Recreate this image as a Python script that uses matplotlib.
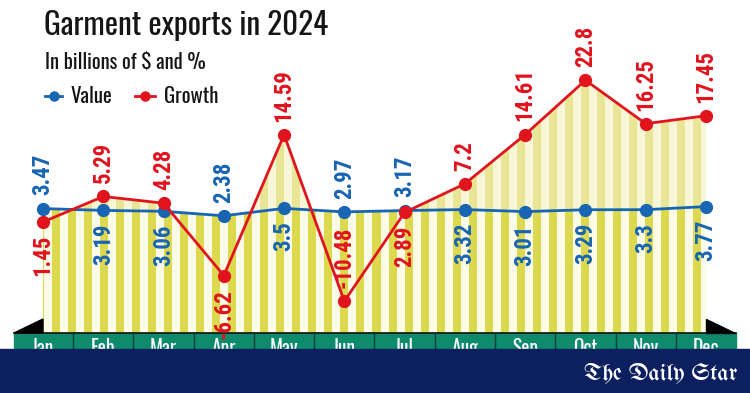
import matplotlib

matplotlib.use("Agg")
import matplotlib.pyplot as plt
import numpy as np
from matplotlib import font_manager
from matplotlib.patches import Polygon, Rectangle
from matplotlib.transforms import Affine2D, blended_transform_factory

## Data
months = ["Jan", "Feb", "Mar", "Apr", "May", "Jun", "Jul", "Aug", "Sep", "Oct", "Nov", "Dec"]
value = [3.47, 3.19, 3.06, 2.38, 3.5, 2.97, 3.17, 3.32, 3.01, 3.29, 3.3, 3.77]
growth = [1.45, 5.29, 4.28, -6.62, 14.59, -10.48, 2.89, 7.2, 14.61, 22.8, 16.25, 17.45]
# which side of the point each label sits on
value_side = ["up", "down", "down", "up", "down", "up", "up", "down", "down", "down", "down", "down"]
growth_side = ["down", "up", "up", "down", "up", "up", "down", "up", "up", "up", "up", "up"]

### Constants
W, H = 750, 393
X0, DX = 43, 60.27  # pixel of Jan, pixels per month
Y0, DY = 231.6, 6.64  # pixel of zero, pixels per unit
BLUE = "#1765b3"
RED = "#e1131d"

installed = {f.name for f in font_manager.fontManager.ttflist}


def pick(*names):
    for n in names:
        if n in installed:
            return n
    return "DejaVu Sans"


TITLE_FONT = pick("Oswald Light", "Oswald ExtraLight", "Oswald", "Roboto Condensed",
                  "Archivo Narrow", "Barlow Condensed")
LABEL_FONT = pick("Roboto Condensed", "Oswald", "Archivo Narrow", "Barlow Condensed")
STAR_FONT = pick("UnifrakturMaguntia", "UnifrakturCook", "Pirata One", "Grenze Gotisch",
                 "Germania One", "DejaVu Serif")

fig = plt.figure(figsize=(W / 100, H / 100), dpi=100)
ax = fig.add_axes([0, 0, 1, 1])
ax.axis("off")
pix = Affine2D().scale(1 / W, -1 / H).translate(0, 1) + fig.transFigure
xband = blended_transform_factory(ax.transData, pix)

x = np.arange(len(months))
v_base = (Y0 - 333) / DY


# striped fill images
def stripes(c_on, c_off):
    cols = X0 + np.arange(int(DX * 11)) + 0.5
    on = ((cols - 52) % 16) < 8
    arr = np.where(on[:, None], np.array(c_on), np.array(c_off))
    return arr[None, :, :] / 255.0


pale = ax.imshow(
    stripes((232, 230, 150), (247, 246, 214)),
    extent=[0, 11, v_base, 30],
    aspect="auto",
    interpolation="nearest",
    zorder=1,
)
pale.set_clip_path(
    Polygon(list(zip(x, growth)) + [(11, v_base), (0, v_base)], transform=ax.transData)
)
strong = ax.imshow(
    stripes((220, 216, 80), (252, 251, 230)),
    extent=[0, 11, v_base, 30],
    aspect="auto",
    interpolation="nearest",
    zorder=2,
)
strong.set_clip_path(
    Polygon(list(zip(x, value)) + [(11, v_base), (0, v_base)], transform=ax.transData)
)

# lines
ax.plot(x, value, color=BLUE, lw=2, marker="o", ms=8.5, zorder=4)
ax.plot(x, growth, color=RED, lw=2, marker="o", ms=8.5, zorder=5)

for series, sides, color in [(value, value_side, BLUE), (growth, growth_side, RED)]:
    for i, (v, s) in enumerate(zip(series, sides)):
        ax.annotate(
            str(v),
            (i, v),
            xytext=(0, 9.5 if s == "up" else -9.5),
            textcoords="offset points",
            rotation=90,
            ha="center",
            va="bottom" if s == "up" else "top",
            fontsize=16.5,
            fontweight="bold",
            family=LABEL_FONT,
            color=color,
            zorder=6,
        )

# month band
ax.add_patch(Rectangle((14, 333), 722, 16, transform=pix, color="#0e8a6c", zorder=3))
ax.plot([14, 736], [333, 333], transform=pix, color="#111111", lw=1.2, zorder=3)
for i in range(1, len(months)):
    ax.plot([i - 0.5, i - 0.5], [333, 349], transform=xband, color="#0b3f33", lw=1, zorder=3)
ax.add_patch(Polygon([(14, 333), (43, 319), (43, 333)], transform=pix, color="black", zorder=3))
ax.add_patch(Polygon([(706, 319), (706, 333), (735, 333)], transform=pix, color="black", zorder=3))
for i, m in enumerate(months):
    ax.text(i, 355, m, transform=xband, ha="center", va="baseline", color="white",
            fontsize=14, family=TITLE_FONT, zorder=4)

# banner
ax.add_patch(Rectangle((0, 349), W, H - 349, transform=pix, color="#0c1f5e", zorder=7))
ax.text(737, 380, "The Daily Star", transform=pix, ha="right", va="baseline", color="white",
        fontsize=17.5, family=STAR_FONT, zorder=8)

# title and legend
ax.text(44, 35, "Garment exports in 2024", transform=pix, fontsize=22.5, va="baseline",
        family=TITLE_FONT, color="#151515")
ax.text(45, 68, "In billions of $ and %", transform=pix, fontsize=14.8, va="baseline",
        family=TITLE_FONT, color="#151515")
for x0, x1, color, label in [(45, 62, BLUE, "Value"), (135, 155, RED, "Growth")]:
    ax.plot([x0, x1], [96, 96], transform=pix, color=color, lw=2)
    ax.plot([(x0 + x1) / 2], [96], transform=pix, color=color, marker="o", ms=6.5)
    ax.text(x1 + 9, 103, label, transform=pix, fontsize=15, va="baseline",
            family=TITLE_FONT, color="#151515")

ax.set_xlim(-X0 / DX, (W - X0) / DX)
ax.set_ylim((Y0 - H) / DY, Y0 / DY)

plt.savefig("out.png", dpi=100, facecolor="white")
